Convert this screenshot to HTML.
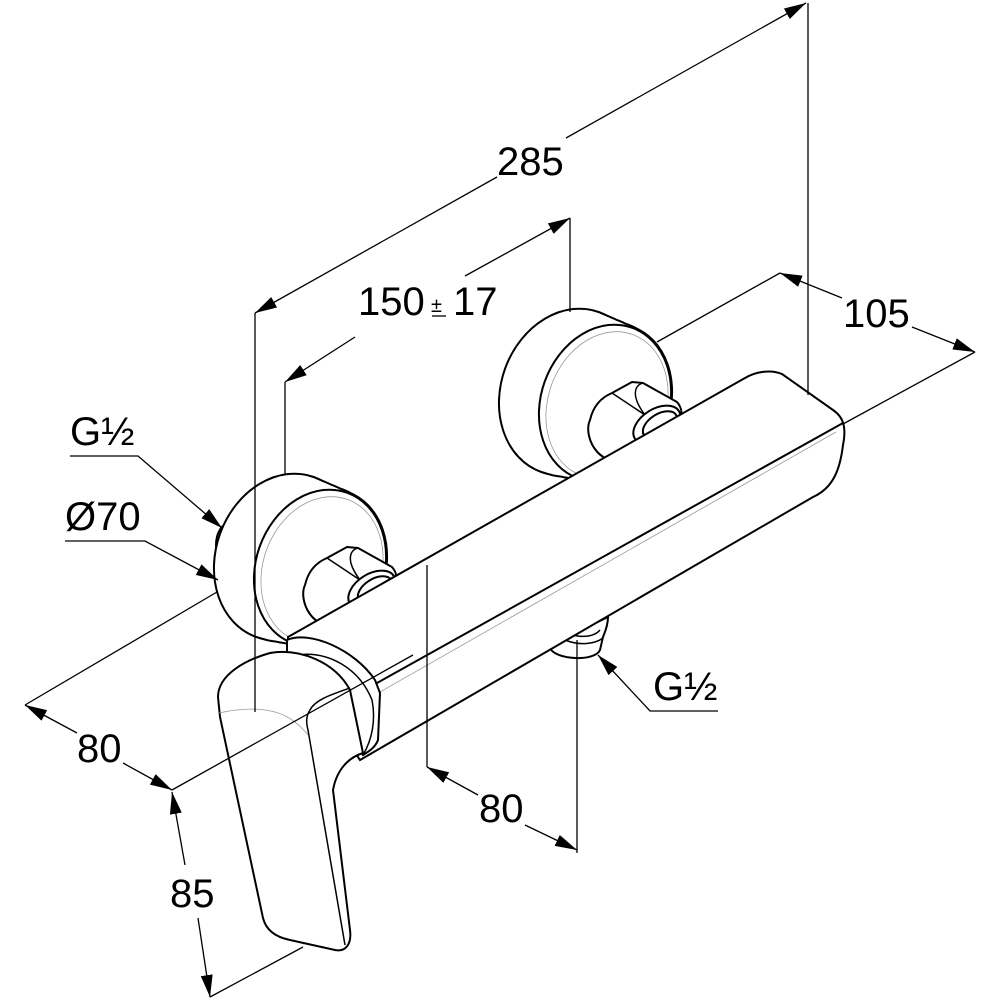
<!DOCTYPE html>
<html><head><meta charset="utf-8"><style>
html,body{margin:0;padding:0;background:#fff}
svg{display:block}
text{font-family:"Liberation Sans",Arial,sans-serif;font-size:40px;fill:#000}
</style></head><body>
<svg width="1000" height="1000" viewBox="0 0 1000 1000" xmlns="http://www.w3.org/2000/svg">
<defs>
<marker id="ar" viewBox="0 0 22 12" refX="22" refY="6" markerWidth="22" markerHeight="12" markerUnits="userSpaceOnUse" orient="auto-start-reverse">
<path d="M0,0 L22,6 L0,12 Z" fill="#000"/>
</marker>
<g id="hull">
<ellipse cx="285" cy="557" rx="68" ry="84" transform="rotate(20 285 557)"/>
<ellipse cx="290" cy="559" rx="67.4" ry="83.4" transform="rotate(20 290 559)"/>
<ellipse cx="295" cy="560" rx="66.8" ry="82.8" transform="rotate(20 295 560)"/>
<ellipse cx="300" cy="562" rx="66.2" ry="82.2" transform="rotate(20 300 562)"/>
<ellipse cx="305" cy="563" rx="65.6" ry="81.6" transform="rotate(20 305 563)"/>
<ellipse cx="310" cy="565" rx="65" ry="81" transform="rotate(20 310 565)"/>
<ellipse cx="315" cy="566" rx="64.5" ry="80.5" transform="rotate(20 315 566)"/>
<ellipse cx="320" cy="568" rx="64" ry="80" transform="rotate(20 320 568)"/>
</g>
</defs>
<g fill="none" stroke="#000" stroke-width="1.3">
<!-- stub G1/2 left -->
<ellipse cx="230" cy="545" rx="14" ry="22" fill="#fff" stroke-width="2"/>

<!-- left rosette + nut -->
<g id="ros" stroke-width="2">
<use href="#hull" fill="#000" stroke="#000" stroke-width="4"/>
<use href="#hull" fill="#fff" stroke="none"/>
<ellipse cx="320" cy="568" rx="64" ry="80" transform="rotate(20 320 568)" fill="#fff"/>
<ellipse cx="322" cy="570" rx="59" ry="75" transform="rotate(20 322 570)" stroke="#999" stroke-width="0.8"/>
<path d="M327,558 L347,547 L358,548 L392,567 C402,578 395,598 375,612 L340,625 C312,632 298,600 305,585 C308,572 315,563 327,558 Z" fill="#fff"/>
<path d="M327,558 L360,580 M358,548 C350,550 345,560 360,580" stroke-width="1.5"/>
<ellipse cx="372" cy="590" rx="26" ry="16" transform="rotate(-32 372 590)" fill="#fff"/>
<ellipse cx="375" cy="590" rx="19" ry="11" transform="rotate(-32 375 590)"/>
</g>
<use href="#ros" transform="translate(285,-165)"/>

<!-- outlet -->
<path d="M550,648 C555,660 595,662 600,650 L603,637 C606,630 608,624 608,617 L560,640 Z" fill="#fff" stroke-width="2"/>
<path d="M565,640 C580,646 595,644 603,638 M572,635 C585,638 595,636 600,630" stroke-width="1.5"/>

<!-- body -->
<path d="M288,637 L745,378 C755,372 770,369 782,374 L833,410 C845,418 846,430 843,445 C840,470 833,488 813,497 L360,760 L288,652 Z" fill="#fff" stroke-width="2"/>
<path d="M843,423 L377,683" stroke-width="2"/>
<path d="M836,432 L380,692" stroke="#999" stroke-width="0.8"/>

<!-- collar -->
<path d="M287,652 L287,640 C310,630 355,650 375,680 L380,693 L378,740 C375,748 368,752 363,755 L300,670 Z" fill="#fff" stroke-width="2"/>
<path d="M296,655 C330,650 360,670 372,700 C376,720 372,740 363,755" stroke-width="1.5"/>

<!-- handle -->
<path d="M218,697 C218,675 245,660 270,653 C300,648 335,662 350,690 L363,753 C350,757 337,768 333,790 L350,930 C352,945 345,952 335,950 L290,940 C275,937 266,930 263,918 L220,717 Z" fill="#fff" stroke-width="2"/>
<path d="M350,688 C330,695 315,700 310,710 C306,716 306,722 308,730 L345,945" stroke-width="1.5"/>
<path d="M219,713 C240,708 260,708 275,712 C290,716 300,725 308,735" stroke="#999" stroke-width="0.8"/>

<!-- extension lines -->
<line x1="255" y1="313" x2="255" y2="712"/>
<line x1="285" y1="382" x2="285" y2="475"/>
<line x1="570" y1="218" x2="570" y2="312"/>
<line x1="808" y1="3" x2="808" y2="395"/>
<line x1="780" y1="273" x2="657" y2="342"/>
<line x1="975" y1="352" x2="843" y2="424"/>
<line x1="25" y1="705" x2="217" y2="592"/>
<line x1="172" y1="790" x2="413" y2="655"/>
<line x1="210" y1="997" x2="303" y2="947"/>
<line x1="427" y1="565" x2="427" y2="767"/>
<line x1="577" y1="640" x2="577" y2="853"/>

<!-- dimension lines -->
<path d="M806,3 L566,138" marker-start="url(#ar)"/>
<path d="M497,177 L255,313" marker-end="url(#ar)"/>
<path d="M570,218 L465,276" marker-start="url(#ar)"/>
<path d="M355,337 L285,382" marker-end="url(#ar)"/>
<path d="M780,273 L842,298" marker-start="url(#ar)"/>
<path d="M912,327 L975,352" marker-end="url(#ar)"/>
<path d="M25,705 L77,733" marker-start="url(#ar)"/>
<path d="M123,763 L172,790" marker-end="url(#ar)"/>
<path d="M172,792 L185,865" marker-start="url(#ar)"/>
<path d="M198,918 L210,997" marker-end="url(#ar)"/>
<path d="M427,767 L478,795" marker-start="url(#ar)"/>
<path d="M525,825 L577,850" marker-end="url(#ar)"/>

<!-- leaders -->
<path d="M70,456 L138,456 L222,528" marker-end="url(#ar)"/>
<path d="M65,541 L145,541 L218,580" marker-end="url(#ar)"/>
<path d="M718,711 L650,711 L598,655" marker-end="url(#ar)"/>
<line x1="432" y1="316" x2="446" y2="316"/>
</g>

<text x="497" y="175">285</text>
<text x="358" y="315">150</text>
<text x="431" y="312" style="font-size:20px">±</text>
<text x="453" y="315">17</text>
<text x="843" y="327">105</text>
<text x="77" y="762">80</text>
<text x="170" y="907">85</text>
<text x="479" y="822">80</text>
<text x="70" y="445">G½</text>
<text x="65" y="530">Ø70</text>
<text x="653" y="700">G½</text>
</svg>
</body></html>
